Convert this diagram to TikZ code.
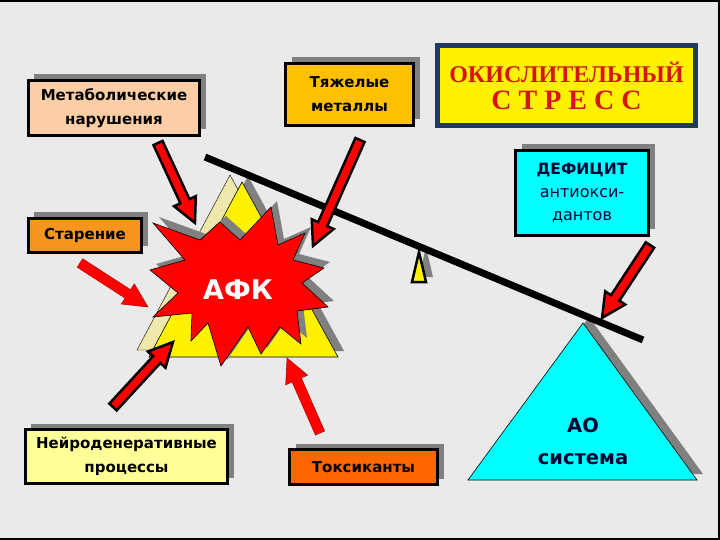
\documentclass[tikz,border=0pt]{standalone}
\usepackage{fontspec}
\setmainfont{DejaVu Sans}
\newfontfamily\stressfont{Liberation Serif}
\usetikzlibrary{calc,shadows}

\definecolor{bgc}{RGB}{234,234,234}
\definecolor{shadowc}{RGB}{128,128,128}
\definecolor{metabc}{RGB}{252,206,166}
\definecolor{metalc}{RGB}{255,192,0}
\definecolor{agec}{RGB}{247,150,30}
\definecolor{neuroc}{RGB}{255,255,153}
\definecolor{toxc}{RGB}{255,102,0}
\definecolor{aquac}{RGB}{0,255,255}
\definecolor{stressc}{RGB}{31,56,100}
\definecolor{stresstext}{RGB}{215,20,20}
\definecolor{navyc}{RGB}{0,0,50}
\definecolor{palec}{RGB}{238,232,170}

\tikzset{
  box/.style={draw=black, line width=3.5bp, align=center, inner sep=0pt,
    drop shadow={shadow xshift=6bp, shadow yshift=6bp, fill=shadowc, opacity=1}},
  lab/.style={font=\bfseries\fontsize{15bp}{24bp}\selectfont},
  redarr/.style={fill=red, draw=black, line width=2.5bp, line join=miter},
  flatarr/.style={fill=red, draw=red!75!black, line width=0.6bp, line join=miter}
}

% block arrow from #2 to #3
\newcommand\blockarrow[3][redarr]{%
  \draw[#1] let \p1=($(#3)-(#2)$) in [shift={(#2)}, rotate={atan2(\y1,\x1)}]
    (0pt,-5pt) -- ({veclen(\x1,\y1)-24pt},-5pt) -- ({veclen(\x1,\y1)-24pt},-12pt)
    -- ({veclen(\x1,\y1)},0pt) -- ({veclen(\x1,\y1)-24pt},12pt)
    -- ({veclen(\x1,\y1)-24pt},5pt) -- (0pt,5pt) -- cycle;}

\newcommand\afkstar{(271,207) -- (278,245) -- (305,233) -- (293,260) -- (324,268)
  -- (302,283) -- (328,307) -- (297,311) -- (301,344) -- (280,327) -- (261,354)
  -- (248,327) -- (221,366) -- (208,323) -- (191,341) -- (192,313) -- (153,317)
  -- (178,293) -- (150,270) -- (185,260) -- (153,223) -- (200,240) -- (220,222)
  -- (240,240) -- cycle}

\begin{document}
\begin{tikzpicture}[x=1bp, y=-1bp]
\useasboundingbox (0,0) rectangle (720,540);
\fill[bgc] (0,0) rectangle (720,540);
\draw[line width=2bp] (0,1) -- (719,1) -- (719,539) -- (0,539);

\node[box, lab, fill=metabc, minimum width=171bp, minimum height=55bp] (metab) at (114,108) {Метаболические\\нарушения};
\node[box, lab, fill=metalc, minimum width=128bp, minimum height=62bp] (metal) at (349.5,94.5) {Тяжелые\\металлы};
\node[box, lab, fill=agec, minimum width=113bp, minimum height=34bp] (age) at (85,235.5) {Старение};
\node[box, lab, fill=neuroc, minimum width=202bp, minimum height=54bp] (neuro) at (126.5,456.5) {Нейроденеративные\\процессы};
\node[box, lab, fill=toxc, minimum width=148bp, minimum height=35bp] (tox) at (363.5,467) {Токсиканты};
\node[box, fill=aquac, text=navyc, minimum width=133bp, minimum height=85bp,
  font=\fontsize{16bp}{23bp}\selectfont] (deficit) at (582,193)
  {\textbf{\fontsize{15.5bp}{23bp}\selectfont ДЕФИЦИТ}\\антиокси-\\дантов};
\node[draw=stressc, line width=5bp, fill=yellow, text=stresstext, align=center,
  minimum width=258bp, minimum height=80bp, inner sep=0pt] (stress) at (566.5,86)
  {{\stressfont\bfseries\fontsize{24bp}{28bp}\selectfont ОКИСЛИТЕЛЬНЫЙ}\\[7bp]
   {\stressfont\bfseries\fontsize{28bp}{28bp}\selectfont С Т Р Е С С}};

% AO system
\fill[shadowc] (589,317) -- (703,474) -- (474,474) -- cycle;
\draw[fill=aquac, line width=0.6bp] (583,323) -- (697,480) -- (468,480) -- cycle;
\node[text=navyc, align=center, font=\bfseries\fontsize{19.5bp}{32bp}\selectfont] (ao) at (583,441) {АО\\система};

% left pyramid
\draw[fill=palec, line width=0.4bp] (230,175) -- (326,350) -- (137,350) -- cycle;
\fill[shadowc] (248,176) -- (344,351) -- (155,351) -- cycle;
\draw[fill=yellow, line width=0.6bp] (242,182) -- (338,357) -- (149,357) -- cycle;

% AFK
\fill[shadowc, shift={(6,-6)}] \afkstar;
\draw[fill=red, line width=0.6bp] \afkstar;
\node[text=white, font=\bfseries\fontsize{27bp}{30bp}\selectfont] (afk) at (238,290) {АФК};

% fulcrum and lever
\fill[shadowc] (426,247) -- (433,277) -- (419,277) -- cycle;
\draw[fill=yellow, line width=2.5bp, line join=miter] (419,252) -- (426,282) -- (412,282) -- cycle;
\coordinate (lever-l) at (205,157);
\coordinate (lever-r) at (643,340);
\draw[line width=7bp] (lever-l) -- (lever-r);

% arrows
\coordinate (t1) at (158,143);  \coordinate (h1) at (195,223);
\coordinate (t2) at (360,140);  \coordinate (h2) at (313,246);
\coordinate (t3) at (80,263);   \coordinate (h3) at (148,307);
\coordinate (t4) at (113,407);  \coordinate (h4) at (173,342);
\coordinate (t5) at (320,433);  \coordinate (h5) at (287,358);
\coordinate (t6) at (650,245);  \coordinate (h6) at (602,318);
\blockarrow{t1}{h1}
\blockarrow{t2}{h2}
\blockarrow[flatarr]{t3}{h3}
\blockarrow{t4}{h4}
\blockarrow[flatarr]{t5}{h5}
\blockarrow{t6}{h6}
\end{tikzpicture}
\end{document}
